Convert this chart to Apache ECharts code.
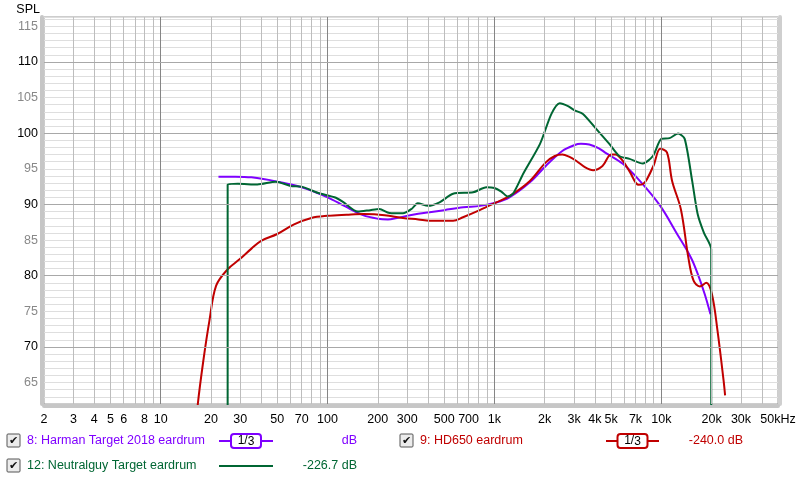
<!DOCTYPE html>
<html><head><meta charset="utf-8">
<script src="https://cdn.jsdelivr.net/npm/echarts@6/dist/echarts.min.js"></script>
<style>html,body{margin:0;padding:0;background:#fff}#c{width:800px;height:481px}</style>
</head><body><div id="c"></div>
<script>
// ---- data (frequency in Hz, level in dB SPL) ----
const harmanFreq = [22.2, 28, 35, 50, 70, 100, 126, 163, 200, 230, 260, 330, 409, 500, 650, 820, 1000, 1230, 1630, 2030, 2550, 3000, 3300, 3700, 4200, 4660, 5880, 7500, 9850, 12400, 15000, 16500, 18200, 19700];
const harmanDb   = [93.9, 93.9, 93.8, 93.2, 92.4, 91.0, 89.8, 88.5, 88.0, 87.9, 88.1, 88.6, 88.9, 89.2, 89.6, 89.8, 90.2, 91.0, 93.1, 95.4, 97.5, 98.3, 98.5, 98.4, 97.9, 97.2, 95.7, 93.2, 89.8, 85.9, 82.6, 80.3, 77.4, 74.6];

const hd650Freq = [16, 16.7, 18, 19.6, 21.5, 25.2, 29.7, 35, 40, 50, 63, 80, 100, 130, 165, 220, 283, 350, 409, 565, 648, 816, 1028, 1236, 1630, 2030, 2300, 2550, 2800, 3100, 3500, 3900, 4440, 5000, 5300, 5880, 6500, 7300, 7800, 8200, 9000, 9850, 10800, 11600, 13100, 14500, 15600, 17000, 18600, 20100, 21700, 23600, 24100];
const hd650Db   = [57.0, 62.0, 68.0, 73.7, 78.6, 80.9, 82.3, 83.8, 84.9, 85.85, 87.2, 88.1, 88.4, 88.55, 88.65, 88.5, 88.1, 87.9, 87.7, 87.7, 88.2, 89.2, 90.3, 91.2, 93.3, 95.9, 96.8, 97.0, 96.7, 96.1, 95.2, 94.8, 95.4, 97.0, 97.0, 96.1, 94.5, 92.75, 92.9, 93.55, 95.5, 97.8, 97.3, 93.3, 89.3, 82.6, 79.3, 78.5, 79.0, 77.4, 72.3, 65.3, 63.2];

const neutralFreq = [25.2, 25.2, 29, 38, 49, 60, 70, 88, 110, 123, 152, 180, 204, 235, 283, 320, 347, 400, 469, 565, 745, 895, 1000, 1100, 1205, 1300, 1487, 1875, 2195, 2460, 2760, 3020, 3390, 4070, 4880, 5600, 6450, 7750, 8900, 10000, 11200, 12600, 13800, 15300, 16500, 18000, 19900, 19900];
const neutralDb   = [50, 92.8, 92.9, 92.8, 93.2, 92.6, 92.5, 91.6, 91.0, 90.4, 89.0, 89.2, 89.35, 88.8, 88.75, 89.4, 90.15, 89.8, 90.3, 91.5, 91.7, 92.4, 92.3, 91.8, 91.1, 91.6, 94.3, 98.5, 102.7, 104.2, 103.8, 103.2, 102.7, 100.6, 98.5, 96.8, 96.4, 95.75, 96.8, 99.2, 99.3, 99.95, 99.2, 93.3, 88.65, 86.0, 83.7, 50];

const xTickLabels = [2, 3, 4, 5, 6, 8, 10, 20, 30, 50, 70, 100, 200, 300, 500, 700, 1000, 2000, 3000, 4000, 5000, 7000, 10000, 20000, 30000, 50000];
const xMinorGrid = [3, 4, 5, 6, 7, 8, 9, 20, 30, 40, 50, 60, 70, 80, 90, 200, 300, 400, 500, 600, 700, 800, 900, 2000, 3000, 4000, 5000, 6000, 7000, 8000, 9000, 20000, 30000, 40000];
const xMajorGrid = [10, 100, 1000, 10000];
const yMajorGrid = [70, 80, 90, 100, 110];

const legendItems = [
  {label: '8: Harman Target 2018 eardrum', value: 'dB', color: '#7f00ff', smooth: true},
  {label: '9: HD650 eardrum', value: '-240.0 dB', color: '#c00000', smooth: true},
  {label: '12: Neutralguy Target eardrum', value: '-226.7 dB', color: '#006633', smooth: false}
];

const FONT = 'Liberation Sans, Arial, sans-serif';
const zip = (a, b) => a.map((v, i) => [v, b[i]]);
function fmtFreq(f) {
  if (f >= 50000) return '50kHz';
  if (f >= 1000) return (f / 1000) + 'k';
  return String(f);
}

const chart = echarts.init(document.getElementById('c'));

// ---- legend graphics ----
const graphics = [];
function checkbox(x, y) {
  graphics.push({type: 'rect', shape: {x: x, y: y, width: 13, height: 13, r: 1},
    style: {fill: '#ececec', stroke: '#555', lineWidth: 1}});
  graphics.push({type: 'text', x: x + 6.5, y: y + 7, style: {text: '✔', fill: '#111', font: 'bold 11px DejaVu Sans', align: 'center', verticalAlign: 'middle'}});
}
function legendRow(item, x0, cy, lineX0, lineX1, boxed, valueRight) {
  checkbox(x0, cy - 7);
  graphics.push({type: 'text', x: x0 + 20, y: cy, style: {text: item.label, fill: item.color, font: '12.5px ' + FONT, verticalAlign: 'middle'}});
  graphics.push({type: 'line', shape: {x1: lineX0, y1: cy, x2: lineX1, y2: cy}, style: {stroke: item.color, lineWidth: 2}});
  if (boxed) {
    const mid = (lineX0 + lineX1) / 2;
    graphics.push({type: 'rect', shape: {x: mid - 15, y: cy - 7, width: 30, height: 14, r: 3}, style: {fill: '#fff', stroke: item.color, lineWidth: 2}});
    graphics.push({type: 'text', x: mid, y: cy, style: {
      text: '{u|1}{s|/}{l|3}', align: 'center', verticalAlign: 'middle',
      rich: {u: {fontSize: 12, fontFamily: FONT, fill: '#000', verticalAlign: 'top', lineHeight: 13},
             s: {fontSize: 12, fontFamily: FONT, fill: '#000', verticalAlign: 'middle', lineHeight: 13},
             l: {fontSize: 12, fontFamily: FONT, fill: '#000', verticalAlign: 'bottom', lineHeight: 13, padding: [3, 0, 0, 0]}}
    }});
  }
  graphics.push({type: 'text', x: valueRight, y: cy, style: {text: item.value, fill: item.color, font: '12.5px ' + FONT, align: 'right', verticalAlign: 'middle'}});
}
legendRow(legendItems[0], 7, 441, 219, 273, true, 357);
legendRow(legendItems[1], 400, 441, 606, 659, true, 743);
legendRow(legendItems[2], 7, 466, 219, 273, false, 357);

const gridData = []
  .concat(xMinorGrid.map(v => ({xAxis: v, lineStyle: {color: '#bdbdbd', width: 1, type: 'solid'}})))
  .concat(xMajorGrid.map(v => ({xAxis: v, lineStyle: {color: '#858585', width: 1, type: 'solid'}})))
  .concat(yMajorGrid.map(v => ({yAxis: v, lineStyle: {color: '#a8a8a8', width: 1, type: 'solid'}})));

const seriesData = [zip(harmanFreq, harmanDb), zip(hd650Freq, hd650Db), zip(neutralFreq, neutralDb)];

const option = {
  animation: false,
  backgroundColor: '#fff',
  grid: {left: 44, right: 22, top: 17, bottom: 77, show: true, backgroundColor: '#fff', borderColor: '#9a9a9a', borderWidth: 1},
  xAxis: [
    {type: 'log', logBase: 10, min: 2, max: 50000, position: 'bottom', offset: 2,
     axisLine: {show: true, lineStyle: {color: '#c6c6c6', width: 4}},
     axisTick: {show: false}, axisLabel: {show: false}, splitLine: {show: false}, minorSplitLine: {show: false}},
    {type: 'value', min: Math.log10(2), max: Math.log10(50000), position: 'bottom',
     axisLine: {show: false}, axisTick: {show: false}, splitLine: {show: false},
     axisLabel: {show: true, customValues: xTickLabels.map(v => Math.log10(v)),
       formatter: v => fmtFreq(Math.round(Math.pow(10, v))),
       color: '#000', fontSize: 12.5, fontFamily: FONT, margin: 9}}
  ],
  yAxis: [
    {type: 'value', min: 62, max: 116.3, interval: 1, position: 'left', offset: 2,
     name: 'SPL', nameLocation: 'end', nameGap: 1,
     nameTextStyle: {color: '#000', fontSize: 12.5, fontFamily: FONT, align: 'right', verticalAlign: 'bottom', padding: [0, 2, 0, 0]},
     axisLine: {show: true, lineStyle: {color: '#c6c6c6', width: 4}},
     axisTick: {show: false},
     axisLabel: {fontSize: 12.5, fontFamily: FONT, margin: 4,
       formatter: v => (Number.isInteger(v) && v % 5 === 0) ? String(v) : '',
       color: v => (Number(v) % 10 === 0 ? '#000' : '#888')},
     splitLine: {show: true, lineStyle: {color: '#dedede', width: 1}}},
    {type: 'value', min: 62, max: 116.3, position: 'right', offset: 2,
     axisLine: {show: true, lineStyle: {color: '#cfcfcf', width: 4}},
     axisTick: {show: false}, axisLabel: {show: false}, splitLine: {show: false}}
  ],
  graphic: graphics,
  series: [
    {type: 'line', name: 'grid', xAxisIndex: 0, yAxisIndex: 0, z: 1, data: [],
     silent: true,
     markLine: {silent: true, symbol: 'none', animation: false, label: {show: false}, data: gridData}},
  ].concat(legendItems.map((it, i) => ({
    type: 'line', name: it.label, xAxisIndex: 0, yAxisIndex: 0, z: 3,
    data: seriesData[i], showSymbol: false, symbol: 'none', smooth: it.smooth ? 0.35 : 0.25,
    lineStyle: {color: it.color, width: 2}, itemStyle: {color: it.color}, clip: true
  })))
};
chart.setOption(option);
</script>
</body></html>
